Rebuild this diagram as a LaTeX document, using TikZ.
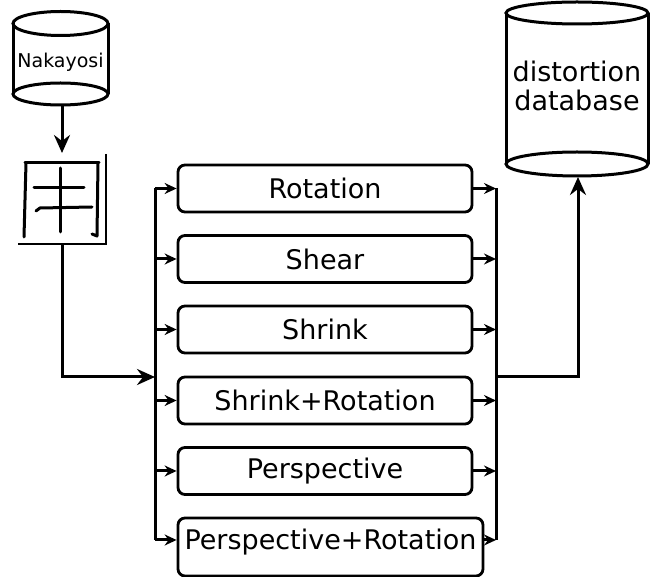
\documentclass[tikz,border=0pt]{standalone}
\usepackage{fontspec}
\setmainfont{DejaVu Sans}
\usetikzlibrary{arrows.meta}
\begin{document}
\begin{tikzpicture}[x=1pt,y=-1pt,line width=3pt,
  proc/.style={draw,line width=2.8pt,rounded corners=7pt,minimum width=294pt,minimum height=47pt,inner sep=0pt,font=\fontsize{27}{32}\selectfont},
  smallarr/.style={-{Stealth[length=12pt,width=11pt,inset=4pt]}},
  bigarr/.style={-{Stealth[length=18pt,width=16pt,inset=6pt]}},
  stroke/.style={line width=3pt,line cap=round,line join=round}]
\useasboundingbox (0,0) rectangle (665,577);

% Nakayosi cylinder
\draw (60.5,23.5) ellipse [x radius=47.5, y radius=12];
\draw (13,23.5) -- (13,94);
\draw (108,23.5) -- (108,94);
\draw (60.5,94) ellipse [x radius=47.5, y radius=11];
\node[font=\fontsize{19}{22}\selectfont] (nak) at (60.5,62) {Nakayosi};
\coordinate (nakb) at (62,105);
\coordinate (imgt) at (62,153);

% character image
\draw[line width=1.8pt] (106,154) -- (106,244) -- (18,244);
\draw[stroke] (25,163) -- (99,163);
\draw[stroke] (26,163) -- (24,237);
\draw[stroke] (98,163) -- (97,236) -- (92,234);
\draw[stroke] (60,168) -- (60,232);
\draw[stroke] (34,188) -- (84,188);
\draw[stroke] (36,211) -- (40,208) -- (92,207);
\coordinate (imgb) at (62,244);

\draw[bigarr] (nakb) -- (imgt);

% left bus
\coordinate (lbt) at (155,188.5);
\coordinate (lbb) at (155,540);
\coordinate (lbin) at (155,377);
\draw (lbt) -- (lbb);
\draw[bigarr] (imgb) |- (lbin);

% process boxes
\node[proc] (r1) at (325,188.5) {Rotation};
\node[proc] (r2) at (325,259) {Shear};
\node[proc] (r3) at (325,329.5) {Shrink};
\node[proc] (r4) at (325,400.5) {Shrink+Rotation};
\node[proc] (r5) at (325,471) {Perspective};
\node[proc,minimum width=305pt,text height=32pt,text depth=26pt] (r6) at (330.5,547) {Perspective+Rotation};

% right bus
\coordinate (rbt) at (496,188.5);
\coordinate (rbb) at (496,540);
\coordinate (rbout) at (496,377);
\draw (rbt) -- (rbb);

\foreach \n in {r1,r2,r3,r4,r5}{
  \draw[smallarr] (lbt |- \n.west) -- (\n.west);
  \draw[smallarr] (\n.east) -- (rbt |- \n.east);
}
\draw[smallarr] (lbb) -- (lbb -| r6.west);
\draw[smallarr] (rbb -| r6.east) -- (rbb);

% database cylinder
\draw (577,13) ellipse [x radius=71, y radius=11];
\draw (506,13) -- (506,164);
\draw (648,13) -- (648,164);
\draw (577,164) ellipse [x radius=71, y radius=12];
\node[font=\fontsize{27}{29}\selectfont,align=center] (db) at (577,86) {distortion\\database};
\coordinate (dbb) at (578,177);

\draw[bigarr] (rbout) -| (dbb);
\end{tikzpicture}
\end{document}
